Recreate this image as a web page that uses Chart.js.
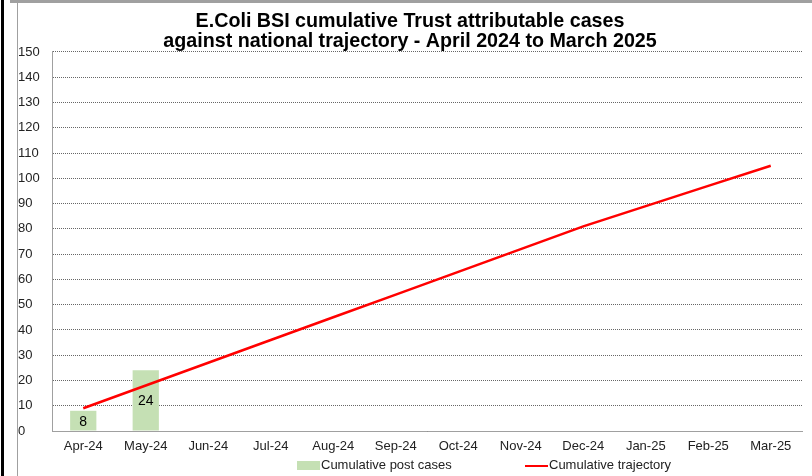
<!DOCTYPE html>
<html>
<head>
<meta charset="utf-8">
<script src="https://cdn.jsdelivr.net/npm/chart.js"></script>
<style>
  html, body { margin: 0; padding: 0; background: #fff; }
  body { width: 812px; height: 476px; position: relative; overflow: hidden; font-family: Arial, "Liberation Sans", sans-serif; }
  #leftbar { position: absolute; left: 1px; top: 0; width: 3px; height: 476px; background: #000; }
  #topbar { position: absolute; left: 10px; top: 0; width: 802px; height: 3px; background: #a0a0a0; }
  #frame { position: absolute; left: 17px; top: 3px; width: 1px; height: 473px; background: #a0a0a0; }
  #wrap { position: absolute; left: 18px; top: 3px; width: 794px; height: 473px; }
  #legend { position: absolute; top: 457px; left: 0; width: 812px; font-size: 13px; color: #222; }
  .item { position: absolute; top: 0; white-space: nowrap; }
  .box { display: inline-block; width: 23px; height: 9px; background: #c5e0b4; vertical-align: middle; margin-right: 1px; }
  .ln { display: inline-block; width: 23px; height: 2px; background: #ff0000; vertical-align: middle; margin-right: 1px; }
</style>
</head>
<body>
<div id="leftbar"></div>
<div id="topbar"></div>
<div id="frame"></div>
<div id="wrap"><canvas id="myChart" width="794" height="473"></canvas></div>
<div id="legend">
  <span class="item" style="left:297px"><span class="box"></span>Cumulative post cases</span>
  <span class="item" style="left:525px"><span class="ln"></span>Cumulative trajectory</span>
</div>
<script>
const months = ["Apr-24", "May-24", "Jun-24", "Jul-24", "Aug-24", "Sep-24", "Oct-24", "Nov-24", "Dec-24", "Jan-25", "Feb-25", "Mar-25"]
const postCases = [8, 24, null, null, null, null, null, null, null, null, null, null]
const trajectory = [9, 18, 27, 36, 45, 54, 63, 72, 81, 89, 97, 105]
const yTicks = [0, 10, 20, 30, 40, 50, 60, 70, 80, 90, 100, 110, 120, 130, 140, 150]

// labels drawn in the middle of each bar
const barLabels = {
  id: 'barLabels',
  afterDatasetsDraw(chart) {
    const ctx = chart.ctx
    const meta = chart.getDatasetMeta(1)
    ctx.save()
    ctx.font = '14px Arial'
    ctx.fillStyle = '#000'
    ctx.textAlign = 'center'
    ctx.textBaseline = 'middle'
    meta.data.forEach((bar, i) => {
      const v = postCases[i]
      if (v == null) return
      ctx.fillText(String(v), bar.x, (bar.y + bar.base) / 2 + 1)
    })
    ctx.restore()
  }
}

const myChart = new Chart(document.getElementById('myChart'), {
  data: {
    labels: months,
    datasets: [
      {
        type: 'line',
        label: 'Cumulative trajectory',
        data: trajectory,
        borderColor: '#ff0000',
        backgroundColor: '#ff0000',
        borderWidth: 2.5,
        pointRadius: 0,
        tension: 0,
        order: 0
      },
      {
        type: 'bar',
        label: 'Cumulative post cases',
        data: postCases,
        backgroundColor: '#c5e0b4',
        categoryPercentage: 1,
        barPercentage: 0.42,
        order: 1
      }
    ]
  },
  options: {
    responsive: false,
    animation: false,
    layout: { padding: { left: 0, right: 10, top: 0, bottom: 20 } },
    plugins: {
      legend: { display: false },
      tooltip: { enabled: false },
      title: {
        display: true,
        text: ['E.Coli BSI cumulative Trust attributable cases', 'against national trajectory - April 2024 to March 2025'],
        color: '#000',
        font: { family: 'Arial', size: 19.7, weight: 'bold', lineHeight: 1.015 },
        padding: { top: 9, bottom: 0 }
      }
    },
    scales: {
      x: {
        grid: { display: false, drawTicks: false },
        border: { color: '#a0a0a0', width: 1 },
        ticks: { color: '#222', font: { family: 'Arial', size: 13 }, padding: 8, maxRotation: 0, autoSkip: false },
        afterFit: s => { s.height = 25 }
      },
      y: {
        min: 0,
        max: 150,
        afterBuildTicks: s => { s.ticks = yTicks.map(v => ({ value: v })) },
        grid: { color: '#666', drawTicks: false, lineWidth: 1 },
        border: { color: '#a0a0a0', width: 1, dash: [1, 1] },
        ticks: { color: '#222', font: { family: 'Arial', size: 13 }, crossAlign: 'far', padding: 4 },
        afterFit: s => { s.width = 34 }
      }
    }
  },
  plugins: [barLabels]
})
</script>
</body>
</html>
